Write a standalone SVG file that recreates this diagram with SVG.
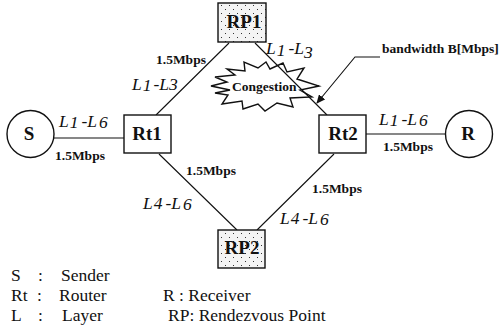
<svg xmlns="http://www.w3.org/2000/svg" width="500" height="330" viewBox="0 0 500 330">
<style>
text{font-family:"Liberation Serif","Times New Roman",serif;fill:#111}
.n{fill:#fff;stroke:#111;stroke-width:1.4}
.d{fill:url(#dots);stroke:#111;stroke-width:1.4}
.t{font-size:19px;font-weight:bold;text-anchor:middle}
.b{font-size:13.500px;font-weight:bold}
.l{font-size:17.500px;font-style:italic}
.k{font-size:17.500px}
.c{fill:none;stroke:#111;stroke-width:1.1}
</style>
<defs>
<pattern id="dots" width="8" height="8" patternUnits="userSpaceOnUse"><rect width="8" height="8" fill="#f4f4f4"/><rect x="1" y="1" width="1" height="1" fill="#333"/><rect x="5" y="5" width="1" height="1" fill="#333"/></pattern>
<marker id="a" markerWidth="9" markerHeight="8" refX="8" refY="4" orient="auto" markerUnits="userSpaceOnUse"><path d="M0 0L9 4L0 8Z" fill="#111"/></marker>
</defs>
<g id="congestion"><polygon class="n" points="211,86 227,82 215,77 235,75 227,69 245,71 244,62 258,68 266,62 270,69 283,63 287,72 304,68 297,79 319,86 300,90 312,97 290,98 293,107 277,103 265,111 258,104 243,109 242,101 222,104 228,95 215,93 230,90"/></g>
<g id="connectors">
<path class="c" d="M54 138H124M366 134H445M229 43L156 115M255 43L327 115M159 154L237 230M334 154L257 230"/>
<path class="c" d="M380 57H355L317 103" marker-end="url(#a)"/>
</g>
<g id="S"><circle class="n" cx="30.500" cy="134" r="23.500"/><text class="t" x="29" y="140">S</text></g>
<g id="R"><circle class="n" cx="469" cy="134" r="23.500"/><text class="t" x="468" y="140">R</text></g>
<g id="Rt1"><rect class="n" x="124" y="115" width="47" height="38"/><text class="t" x="147" y="140">Rt1</text></g>
<g id="Rt2"><rect class="n" x="319" y="115" width="47" height="38"/><text class="t" x="343" y="140">Rt2</text></g>
<g id="RP1"><rect class="d" x="218" y="3" width="48" height="39"/><text class="t" x="244" y="28">RP1</text></g>
<g id="RP2"><rect class="d" x="218" y="230" width="47" height="38"/><text class="t" x="242" y="254">RP2</text></g>
<g id="labels">
<text class="b" x="232" y="91">Congestion</text>
<text class="b" x="156" y="64">1.5Mbps</text>
<text class="b" x="55" y="160">1.5Mbps</text>
<text class="b" x="186" y="175">1.5Mbps</text>
<text class="b" x="312" y="193">1.5Mbps</text>
<text class="b" x="383" y="151">1.5Mbps</text>
<text class="b" x="382" y="53">bandwidth B[Mbps]</text>
<text class="l" x="132" y="90">L<tspan dx="1" dy="1">1</tspan><tspan dx="2" dy="-1">-L</tspan><tspan>3</tspan></text>
<text class="l" x="266" y="54">L<tspan dx="1" dy="2">1</tspan><tspan dx="3" dy="-2">-L</tspan><tspan dy="4">3</tspan></text>
<text class="l" x="59" y="127">L<tspan dx="1" dy="1">1</tspan><tspan dx="3" dy="-1">-L</tspan><tspan dx="2" dy="1">6</tspan></text>
<text class="l" x="379" y="125">L<tspan dx="1" dy="1">1</tspan><tspan dx="3" dy="-1">-L</tspan><tspan dx="2" dy="1">6</tspan></text>
<text class="l" x="143" y="209">L<tspan dx="1">4</tspan><tspan dx="3">-L</tspan><tspan dx="2" dy="1">6</tspan></text>
<text class="l" x="280" y="224">L<tspan dx="1">4</tspan><tspan dx="3">-L</tspan><tspan dx="2" dy="1">6</tspan></text>
<text class="k" x="11" y="281">S</text><text class="k" x="38" y="281">:</text><text class="k" x="61" y="281">Sender</text>
<text class="k" x="11" y="301">Rt</text><text class="k" x="37" y="301">:</text><text class="k" x="59" y="301">Router</text>
<text class="k" x="11" y="321">L</text><text class="k" x="38" y="321">:</text><text class="k" x="62" y="321">Layer</text>
<text class="k" x="163" y="301">R : Receiver</text>
<text class="k" x="168" y="321">RP: Rendezvous Point</text>
</g>
</svg>
